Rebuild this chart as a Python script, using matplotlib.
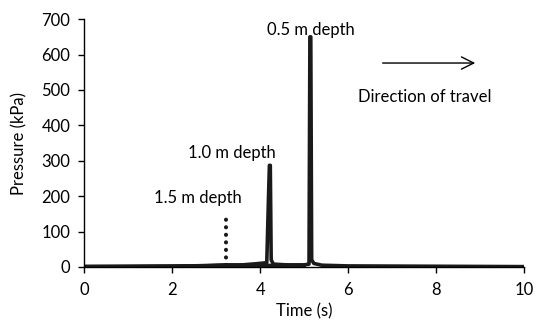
import matplotlib.pyplot as plt

plt.rcParams['font.family'] = ['Lato', 'DejaVu Sans']

# pressure records (time in s, pressure in kPa)
t_15 = [0.0, 1.0, 2.0, 2.8, 3.22, 3.22, 3.22, 3.6, 4.0]
p_15 = [1, 1, 2, 4, 6, 141, 6, 5, 5]

t_10 = [0.0, 2.0, 3.0, 3.6, 3.9, 4.15, 4.19, 4.21, 4.23, 4.25, 4.3, 4.6, 5.0]
p_10 = [1, 2, 4, 6, 9, 12, 200, 287, 287, 20, 8, 6, 5]

t_05 = [0.0, 2.0, 4.0, 4.6, 5.0, 5.11, 5.13, 5.15, 5.17, 5.22, 5.4, 6.0, 8.0, 10.0]
p_05 = [1, 2, 4, 5, 6, 8, 650, 650, 20, 10, 5, 3, 2, 1]

depth_labels = ['1.5 m depth', '1.0 m depth', '0.5 m depth']

fig, ax = plt.subplots(figsize=(5.36, 3.24), dpi=100)
fig.subplots_adjust(left=0.157, right=0.978, bottom=0.176, top=0.941)

# 1.5 m: baseline solid, the spike itself dotted
ax.plot(t_15[:5] + t_15[6:], p_15[:5] + p_15[6:], color='#1a1a1a', lw=2.6)
ax.plot(t_15[4:6], p_15[4:6], color='#1a1a1a', lw=3.0,
        linestyle=(0, (0.01, 1.8)), dash_capstyle='round')
ax.plot(t_10, p_10, color='#1a1a1a', lw=2.6)
ax.plot(t_05, p_05, color='#1a1a1a', lw=2.6)

ax.text(2.59, 195, depth_labels[0], ha='center', va='center', fontsize=12)
ax.text(3.36, 322, depth_labels[1], ha='center', va='center', fontsize=12)
ax.text(5.16, 670, depth_labels[2], ha='center', va='center', fontsize=12)

ax.annotate('', xy=(8.95, 576), xytext=(6.72, 576),
            arrowprops=dict(arrowstyle='->', lw=1.0, color='black',
                            mutation_scale=22))
ax.text(7.73, 480, 'Direction of travel', ha='center', va='center', fontsize=12)

ax.set_xlim(0, 10)
ax.set_ylim(0, 700)
ax.set_xticks(range(0, 11, 2))
ax.set_yticks(range(0, 701, 100))
ax.set_xlabel('Time (s)', fontsize=12, labelpad=4)
ax.set_ylabel('Pressure (kPa)', fontsize=12, labelpad=10)
ax.tick_params(labelsize=12, direction='out', length=4, width=1)
ax.tick_params(axis='x', pad=7)
ax.tick_params(axis='y', pad=6)
for side in ('top', 'right'):
    ax.spines[side].set_visible(False)
for side in ('left', 'bottom'):
    ax.spines[side].set_linewidth(1.0)

fig.savefig('out.png', dpi=100)
